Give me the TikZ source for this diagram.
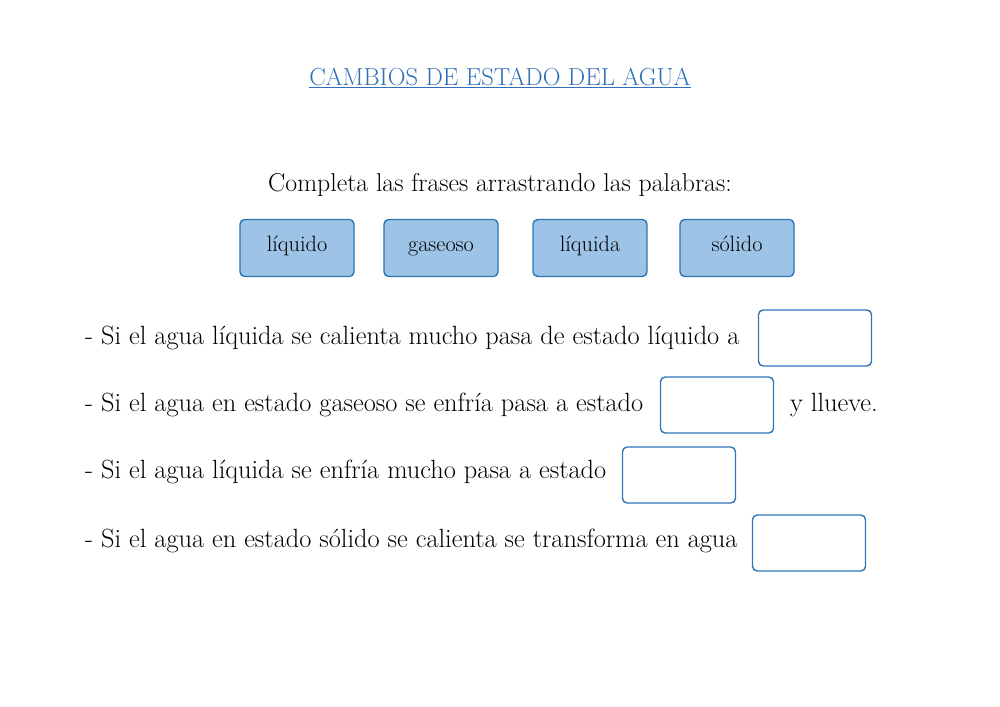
\documentclass[tikz,border=0pt]{standalone}
\usepackage{fontspec}
\definecolor{boxblue}{HTML}{2E75B6}
\definecolor{boxfill}{HTML}{9DC3E6}
\definecolor{titleblue}{HTML}{2F6FB5}
\tikzset{
  wordbox/.style={draw=boxblue, line width=1.2pt, fill=boxfill, rounded corners=4pt,
    minimum width=3.42cm, minimum height=1.71cm, text height=1.6ex, text depth=0.3ex,
    font=\fontsize{19}{22}\selectfont},
  gapbox/.style={draw=boxblue, line width=1.2pt, rounded corners=4pt,
    minimum width=3.39cm, minimum height=1.68cm},
  sentence/.style={anchor=west, inner sep=0pt, font=\fontsize{22.5}{26}\selectfont}
}
\begin{document}
\begin{tikzpicture}[x=0.03cm, y=-0.03cm]
  \useasboundingbox (0,0) rectangle (1000,707);
  % Title and instruction
  \node[text=titleblue, font=\fontsize{21}{25}\selectfont] (title) at (500,78) {\underline{CAMBIOS DE ESTADO DEL AGUA}};
  \node[font=\fontsize{22}{26}\selectfont] (instr) at (500,185) {Completa las frases arrastrando las palabras:};
  % Word boxes
  \node[wordbox] (w1) at (297,248) {líquido};
  \node[wordbox] (w2) at (441,248) {gaseoso};
  \node[wordbox] (w3) at (590,248) {líquida};
  \node[wordbox] (w4) at (737,248) {sólido};
  % Sentences
  \node[sentence] (s1) at (85,338) {- Si el agua líquida se calienta mucho pasa de estado líquido a};
  \node[sentence] (s2) at (85,405) {- Si el agua en estado gaseoso se enfría pasa a estado};
  \node[sentence] (s3) at (85,472) {- Si el agua líquida se enfría mucho pasa a estado};
  \node[sentence] (s4) at (85,541) {- Si el agua en estado sólido se calienta se transforma en agua};
  \node[sentence] (s2b) at (790,405) {y llueve.};
  % Gap boxes
  \node[gapbox] (g1) at (815,338) {};
  \node[gapbox] (g2) at (717,405) {};
  \node[gapbox] (g3) at (679,475) {};
  \node[gapbox] (g4) at (809,543) {};
\end{tikzpicture}
\end{document}
